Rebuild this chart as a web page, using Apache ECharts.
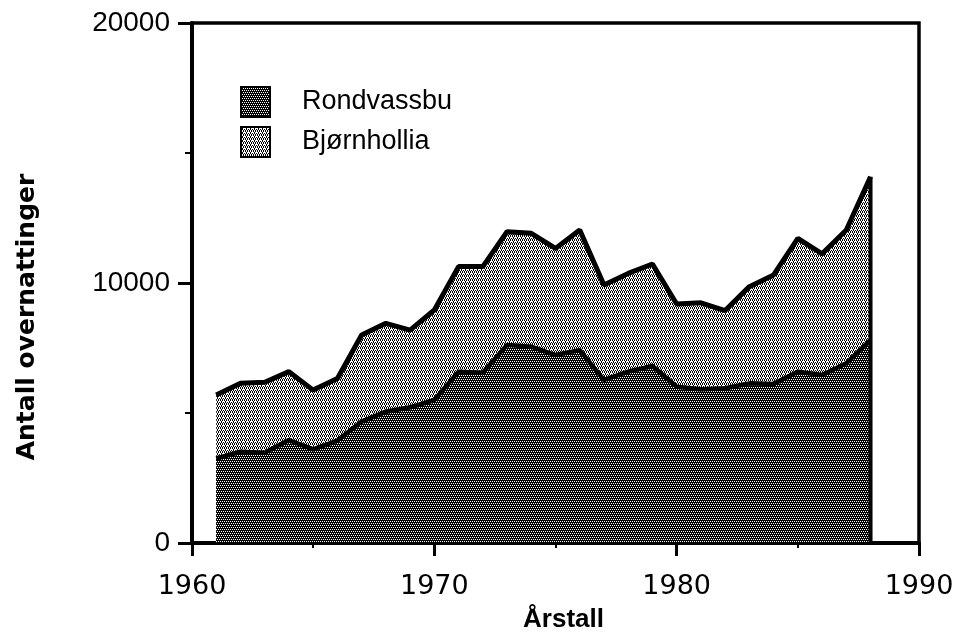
<!DOCTYPE html>
<html>
<head>
<meta charset="utf-8">
<script src="https://cdn.jsdelivr.net/npm/echarts@6/dist/echarts.min.js"></script>
<style>
html,body{margin:0;padding:0;background:#fff;}
#chart{width:959px;height:640px;}
</style>
</head>
<body>
<div id="chart"></div>
<script>
// Data
const years = [1961,1962,1963,1964,1965,1966,1967,1968,1969,1970,1971,1972,1973,1974,1975,1976,1977,1978,1979,1980,1981,1982,1983,1984,1985,1986,1987,1988];
const rondvassbu = [3250,3510,3470,3960,3600,3940,4670,5050,5220,5500,6590,6550,7620,7550,7230,7420,6270,6590,6810,6010,5910,5950,6140,6120,6590,6460,6910,7810];
const bjornhollia = [2440,2630,2710,2630,2280,2390,3330,3400,2970,3460,4040,4080,4350,4360,4100,4620,3650,3780,3920,3180,3330,2990,3720,4190,5130,4660,5130,6280];
const seriesNames = ['Rondvassbu','Bjørnhollia'];
const xTicks = [1960,1970,1980,1990];
const yTicks = [0,10000,20000];

function makePattern(kind){
  const c = document.createElement('canvas');
  c.width = 4; c.height = 4;
  const ctx = c.getContext('2d');
  if (kind === 'dark'){
    ctx.fillStyle = '#000'; ctx.fillRect(0,0,4,4);
    ctx.fillStyle = '#fff';
    [[0,1],[2,1],[1,3],[3,3]].forEach(p=>ctx.fillRect(p[0],p[1],1,1));
  } else {
    ctx.fillStyle = '#fff'; ctx.fillRect(0,0,4,4);
    ctx.fillStyle = '#000';
    [[0,0],[2,0],[1,1],[3,2],[1,2],[0,3],[2,3]].forEach(p=>ctx.fillRect(p[0],p[1],1,1));
  }
  return {image:c, repeat:'repeat'};
}
const darkPat = makePattern('dark');
const lightPat = makePattern('light');

// stacked totals (top of the light band) built from the two series
const totals = years.map((y,i)=>rondvassbu[i] + bjornhollia[i]);

const font = '"Liberation Sans", Arial, sans-serif';
const wideFont = '"DejaVu Sans", sans-serif';
const chart = echarts.init(document.getElementById('chart'), null, {renderer:'canvas'});

chart.setOption({
  animation:false,
  backgroundColor:'#fff',
  grid:{left:192, right:40, top:23, bottom:97, show:true, borderColor:'#000', borderWidth:3.5, containLabel:false},
  legend:{
    orient:'vertical', left:235, top:81, itemWidth:29, itemHeight:30, itemGap:8,
    selectedMode:false,
    data:[
      {name:seriesNames[0], icon:'rect', itemStyle:{color:darkPat, borderColor:'#000', borderWidth:2}},
      {name:seriesNames[1], icon:'rect', itemStyle:{color:lightPat, borderColor:'#000', borderWidth:2}}
    ],
    textStyle:{fontFamily:font, fontSize:27, color:'#000', padding:[0,0,0,27]}
  },
  xAxis:{
    type:'value', min:xTicks[0], max:xTicks[xTicks.length-1], interval:10,
    name:'Årstall', nameLocation:'middle', nameGap:64,
    nameTextStyle:{fontFamily:font, fontSize:26, fontWeight:'bold', color:'#000', padding:[0,0,0,16]},
    axisLine:{show:true, onZero:false, lineStyle:{color:'#000', width:4}},
    axisTick:{show:true, length:13, lineStyle:{color:'#000', width:3}},
    minorTick:{show:true, splitNumber:2, length:5, lineStyle:{color:'#000', width:2}},
    axisLabel:{fontFamily:wideFont, fontSize:27, color:'#000', margin:30, formatter:v=>String(v)},
    splitLine:{show:false}
  },
  yAxis:{
    type:'value', min:yTicks[0], max:yTicks[yTicks.length-1], interval:10000,
    name:'Antall overnattinger', nameLocation:'middle', nameGap:152,
    nameTextStyle:{fontFamily:wideFont, fontSize:25, fontWeight:'bold', color:'#000', padding:[0,68,0,0]},
    axisLine:{show:true, lineStyle:{color:'#000', width:4}},
    axisTick:{show:true, length:14, lineStyle:{color:'#000', width:3}},
    minorTick:{show:true, splitNumber:2, length:7, lineStyle:{color:'#000', width:2}},
    axisLabel:{fontFamily:font, fontSize:28, color:'#000', margin:22, formatter:v=>String(v)},
    splitLine:{show:false}
  },
  series:[
    {
      name:seriesNames[1], type:'line', symbol:'none', z:2,
      data:years.map((y,i)=>[y, totals[i]]),
      itemStyle:{color:lightPat},
      lineStyle:{color:'#000', width:5},
      areaStyle:{color:lightPat, opacity:1, origin:'start'}
    },
    {
      name:seriesNames[0], type:'line', symbol:'none', z:3,
      data:years.map((y,i)=>[y, rondvassbu[i]]),
      itemStyle:{color:darkPat},
      lineStyle:{color:'#000', width:4.5},
      areaStyle:{color:darkPat, opacity:1, origin:'start'}
    },
    {
      name:'edge', type:'line', symbol:'none', z:4, silent:true,
      data:[[years[years.length-1],0],[years[years.length-1], totals[totals.length-1]]],
      lineStyle:{color:'#000', width:4}
    }
  ]
});
</script>
</body>
</html>
